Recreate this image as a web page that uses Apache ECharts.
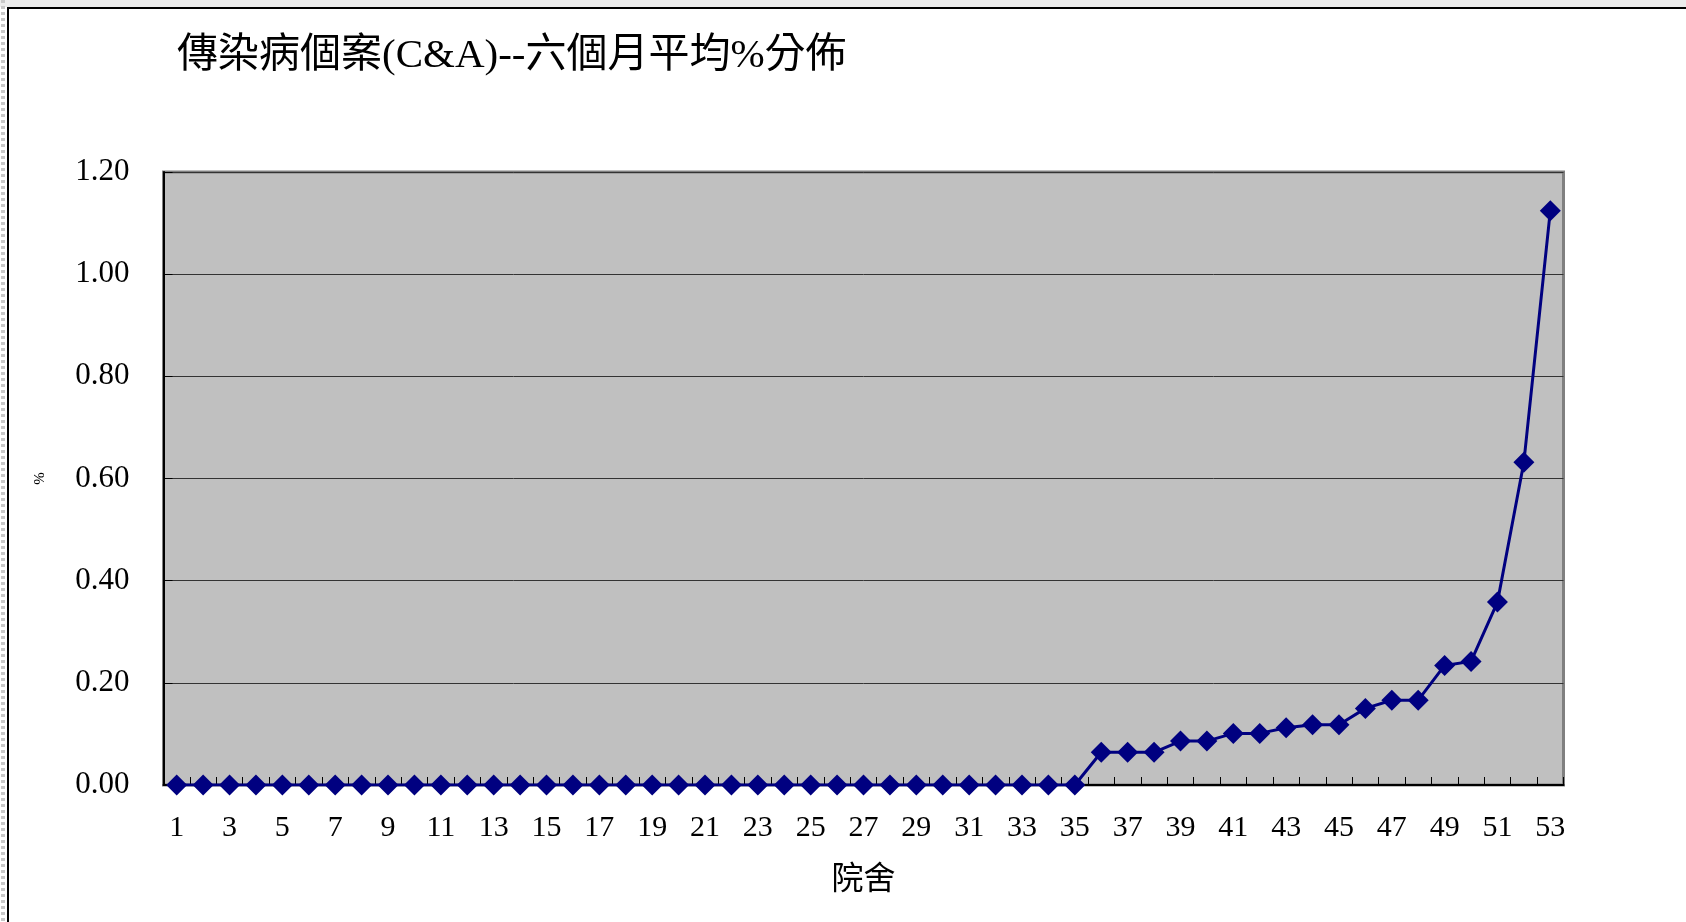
<!DOCTYPE html>
<html>
<head>
<meta charset="utf-8">
<style>
html,body{margin:0;padding:0;background:#fff;}
#chart{width:1686px;height:922px;}
</style>
<script src="https://cdn.jsdelivr.net/npm/echarts@6/dist/echarts.min.js"></script>
</head>
<body>
<div id="chart"></div>
<script>
const titleText = '傳染病個案(C&A)--六個月平均%分佈';
const xAxisName = '院舍';
const yAxisName = '%';
const categories = [];
for (let i = 1; i <= 53; i++) categories.push(String(i));
const values = [
  0,0,0,0,0,0,0,0,0,0,
  0,0,0,0,0,0,0,0,0,0,
  0,0,0,0,0,0,0,0,0,0,
  0,0,0,0,0,
  0.064,0.064,0.064,0.086,0.086,0.101,0.101,0.112,0.118,0.118,
  0.150,0.166,0.166,0.234,0.242,0.358,0.632,1.124
];
const yTicks = { min: 0, max: 1.2, interval: 0.2 };

const serif = '"Liberation Serif", "Noto Sans CJK TC", serif';
const chart = echarts.init(document.getElementById('chart'), null, { renderer: 'canvas' });
chart.setOption({
  backgroundColor: '#ffffff',
  animation: false,
  title: {
    text: titleText,
    left: 172,
    top: 31,
    textStyle: { fontFamily: serif, fontSize: 41, fontWeight: 'normal', color: '#000' }
  },
  graphic: [
    { type: 'rect', shape: { x: 0, y: 0, width: 1686, height: 7 }, style: { fill: '#ececec' }, silent: true },
    { type: 'line', shape: { x1: 3, y1: 0, x2: 3, y2: 922 }, style: { stroke: '#c8c8c8', lineWidth: 4, lineDash: [3, 3] }, silent: true },
    { type: 'rect', shape: { x: 8, y: 8, width: 1700, height: 1000 }, style: { fill: 'none', stroke: '#000', lineWidth: 2 }, silent: true }
  ],
  grid: {
    left: 163.5, right: 122.5, top: 172, bottom: 137,
    show: true, backgroundColor: '#c0c0c0', borderColor: '#808080', borderWidth: 3
  },
  xAxis: {
    type: 'category',
    data: categories,
    boundaryGap: true,
    name: xAxisName,
    nameLocation: 'middle',
    nameGap: 80,
    nameTextStyle: { fontFamily: serif, fontSize: 32, color: '#000' },
    axisLine: { show: true, lineStyle: { color: '#000', width: 2 } },
    axisTick: { show: true, inside: true, length: 8, interval: 0, lineStyle: { color: '#000', width: 1 } },
    axisLabel: { interval: 1, margin: 28, fontFamily: serif, fontSize: 30, color: '#000' },
    splitLine: { show: false }
  },
  yAxis: {
    type: 'value',
    min: yTicks.min, max: yTicks.max, interval: yTicks.interval,
    name: yAxisName,
    nameLocation: 'middle',
    nameGap: 116,
    nameTextStyle: { fontFamily: serif, fontSize: 15, color: '#000' },
    axisLine: { show: true, lineStyle: { color: '#000', width: 2 } },
    axisTick: { show: true, inside: true, length: 9, lineStyle: { color: '#000' } },
    axisLabel: { margin: 34, fontFamily: serif, fontSize: 31, color: '#000', formatter: v => v.toFixed(2) },
    splitLine: { show: true, lineStyle: { color: '#333', width: 1 } }
  },
  series: [{
    type: 'line',
    data: values,
    symbol: 'diamond',
    symbolSize: 21,
    showAllSymbol: true,
    itemStyle: { color: '#000080' },
    lineStyle: { color: '#000080', width: 3 },
    z: 5
  }]
});
</script>
</body>
</html>
